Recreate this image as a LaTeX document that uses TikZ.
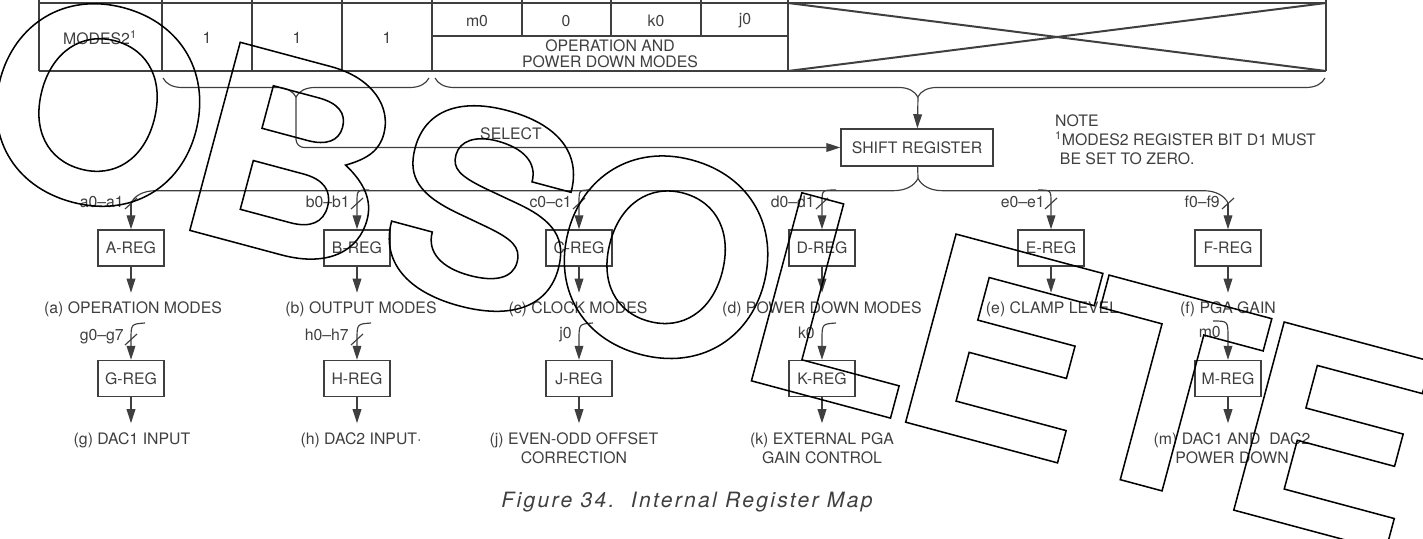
\documentclass[tikz,border=0pt]{standalone}
\usepackage{fontspec}
\setmainfont{TeX Gyre Heros}
\newfontfamily\wmfont{TeX Gyre Heros Bold}[FakeStretch=1.08]
\usetikzlibrary{arrows.meta}
\usetikzlibrary{decorations.pathreplacing}

\definecolor{ink}{HTML}{3f3f3f}
\newcommand{\regfont}{\fontsize{13.5}{16.5}\selectfont}

\begin{document}
\begin{tikzpicture}[x=0.3mm,y=-0.3mm]

	\tikzset{
		reg/.style={
			draw=ink,
			line width=1.2pt,
			minimum width=56.3pt,
			minimum height=30.7pt,
			inner sep=0pt,
			text=ink,
			font=\regfont
		},
		lbl/.style={
			text=ink,
			inner sep=0pt,
			align=center,
			font=\regfont
		},
		bits/.style={lbl,anchor=base east},
		wire/.style={draw=ink,line width=1pt},
		arr/.style={wire,-{Triangle[length=12pt,width=7.5pt]}},
		outarr/.style={arr,shorten >=7.5pt},
		grid/.style={draw=ink,line width=1.7pt},
		letter/.style={anchor=base,inner sep=0pt,text=black,
			font=\wmfont\fontsize{228}{228}\selectfont}
	}

	\useasboundingbox (0,0) rectangle (1423,538);

	% register word (upper row is cut off)
	\draw[grid] (39,3) -- (1326,3) (39,71) -- (1326,71) (432,36) -- (788,36);
	\draw[grid] (39,0) -- (39,71) (162,0) -- (162,71) (252,0) -- (252,71) (342,0) -- (342,71);
	\draw[grid] (432,0) -- (432,71) (788,0) -- (788,71) (1326,0) -- (1326,71);
	\draw[grid] (522,0) -- (522,36) (611,0) -- (611,36) (701,0) -- (701,36);
	\draw[grid] (788,3) -- (1326,71) (788,71) -- (1326,3);

	\node[lbl] (modes) at (100,38) {MODES2\textsuperscript{1}};
	\node[lbl] (one1) at (207,38) {1};
	\node[lbl] (one2) at (297,38) {1};
	\node[lbl] (one3) at (387,38) {1};
	\node[lbl] (bm) at (477,21) {m0};
	\node[lbl] (bz) at (566,21) {0};
	\node[lbl] (bk) at (656,21) {k0};
	\node[lbl] (bj) at (745,21) {j0};
	\node[lbl,font=\fontsize{13.5}{13.7}\selectfont] (opm) at (610,53.5) {OPERATION AND\\POWER DOWN MODES};

	% braces into the shift register
	\draw[wire,decorate,decoration={brace,mirror,amplitude=16.2pt}] (163,78) -- (429,78);
	\draw[wire,decorate,decoration={brace,mirror,amplitude=16.2pt,aspect=0.5425}] (435,78) -- (1325,78);
	\coordinate (selin) at (296,97);
	\coordinate (datin) at (918,97);

	\node[reg,minimum width=129.7pt,minimum height=31.6pt] (sr) at (917,147.5) {SHIFT REGISTER};
	\draw[arr] (datin) -- (sr);
	\draw[arr,rounded corners=7pt] (selin) |- (sr);
	\node[lbl,anchor=base west] (sel) at (480,139) {SELECT};

	\node[lbl,align=left,anchor=north west,font=\fontsize{13.5}{16.2}\selectfont] (note) at (1055,114.5)
	{NOTE\\\textsuperscript{1}MODES2 REGISTER BIT D1 MUST\\\hspace*{0.3em}BE SET TO ZERO.};

	% first row of registers
	\node[reg] (areg) at (131,248) {A-REG};
	\node[reg] (breg) at (357,248) {B-REG};
	\node[reg] (creg) at (579,248) {C-REG};
	\node[reg] (dreg) at (822,248) {D-REG};
	\node[reg] (ereg) at (1051,248) {E-REG};
	\node[reg] (freg) at (1228,248) {F-REG};

	\coordinate (busup) at (918,178);
	\coordinate (ta) at (131,203);
	\coordinate (tf) at (1228,203);
	\coordinate (tb) at (369,190);
	\coordinate (tc) at (591,190);
	\coordinate (td) at (836,190);
	\coordinate (te) at (1038,190);

	\draw[wire] (busup) -- (sr);
	\draw[wire,decorate,decoration={brace,amplitude=21pt,aspect=0.7174}] (ta) -- (tf);

	\draw[arr] (ta) -- (areg);
	\draw[arr] (tb) .. controls (357,190) .. (357,203) -- (breg);
	\draw[arr] (tc) .. controls (579,190) .. (579,203) -- (creg);
	\draw[arr] (td) .. controls (822,190) .. (822,203) -- (dreg);
	\draw[arr] (te) .. controls (1051,190) .. (1051,203) -- (ereg);
	\draw[arr] (tf) -- (freg);

	\draw[wire] (125,209) -- (137,198) (351,209) -- (363,198) (573,209) -- (585,198)
		(816,209) -- (828,198) (1045,209) -- (1057,198) (1222,209) -- (1234,198);

	\node[bits] (ba) at (124,207.5) {a0--a1};
	\node[bits] (bb) at (350,207.5) {b0--b1};
	\node[bits] (bc) at (572,207.5) {c0--c1};
	\node[bits] (bd) at (815,207.5) {d0--d1};
	\node[bits] (be) at (1045,207.5) {e0--e1};
	\node[bits] (bf) at (1220,207.5) {f0--f9};

	\node[lbl,anchor=base] (oa) at (133,313.5) {(a) OPERATION MODES};
	\node[lbl,anchor=base] (ob) at (361,313.5) {(b) OUTPUT MODES};
	\node[lbl,anchor=base] (oc) at (578,313.5) {(c) CLOCK MODES};
	\node[lbl,anchor=base] (od) at (822,313.5) {(d) POWER DOWN MODES};
	\node[lbl,anchor=base] (oe) at (1052,313.5) {(e) CLAMP LEVEL};
	\node[lbl,anchor=base] (of) at (1228,313.5) {(f) PGA GAIN};

	\draw[outarr] (areg) -- (areg |- oa.north);
	\draw[outarr] (breg) -- (breg |- ob.north);
	\draw[outarr] (creg) -- (creg |- oc.north);
	\draw[outarr] (dreg) -- (dreg |- od.north);
	\draw[outarr] (ereg) -- (ereg |- oe.north);
	\draw[outarr] (freg) -- (freg |- of.north);

	% second row of registers
	\node[reg] (greg) at (131,378.5) {G-REG};
	\node[reg] (hreg) at (357,378.5) {H-REG};
	\node[reg] (jreg) at (579,378.5) {J-REG};
	\node[reg] (kreg) at (822,378.5) {K-REG};
	\node[reg] (mreg) at (1228,378.5) {M-REG};

	\coordinate (ig) at (145,323);
	\coordinate (ih) at (371,323);
	\coordinate (ij) at (593,323);
	\coordinate (ik) at (836,323);
	\coordinate (im) at (1213,321);

	\draw[arr] (ig) .. controls (131,324) .. (131,340) -- (greg);
	\draw[arr] (ih) .. controls (357,324) .. (357,340) -- (hreg);
	\draw[arr] (ij) .. controls (579,324) .. (579,340) -- (jreg);
	\draw[arr] (ik) .. controls (822,324) .. (822,340) -- (kreg);
	\draw[arr] (im) .. controls (1228,321) .. (1228,338) -- (mreg);
	\draw[wire] (125,345) -- (137,334) (351,345) -- (363,334);

	\node[bits] (bg) at (124,340.5) {g0--g7};
	\node[bits] (bh) at (349,340.5) {h0--h7};
	\node[bits] (bjj) at (572,338) {j0};
	\node[bits] (bkk) at (815,338) {k0};
	\node[bits] (bmm) at (1221,337) {m0};

	\node[lbl,anchor=base] (og) at (132,444) {(g) DAC1 INPUT};
	\node[lbl,anchor=base] (oh) at (361,444) {(h) DAC2 INPUT·};
	\node[lbl] (oj) at (574,448) {(j) EVEN-ODD OFFSET\\CORRECTION};
	\node[lbl] (ok) at (822,448) {(k) EXTERNAL PGA\\GAIN CONTROL};
	\node[lbl] (om) at (1232,448) {(m) DAC1 AND\ \ DAC2\\POWER DOWN};

	\draw[outarr] (greg) -- (greg |- og.north);
	\draw[outarr] (hreg) -- (hreg |- oh.north);
	\draw[outarr] (jreg) -- (jreg |- oj.north);
	\draw[outarr] (kreg) -- (kreg |- ok.north);
	\draw[outarr] (mreg) -- (mreg |- om.north);

	\node[lbl,anchor=base,font=\fontsize{18}{20}\selectfont\itshape\addfontfeature{LetterSpace=11}] (cap) at (687,507)
	{Figure 34.\ \ Internal Register Map};

	% watermark, outlined letters along a tilted base line
	\begin{scope}[shift={(-28,172)},rotate=-15,transform shape]
		\node[letter] (wo1) at (103.9,0) {\special{pdf:literal direct 1 Tr 1.3 w}O};
		\node[letter] (wb) at (306,0) {\special{pdf:literal direct 1 Tr 1.3 w}B};
		\node[letter] (ws) at (505,0) {\special{pdf:literal direct 1 Tr 1.3 w}S};
		\node[letter] (wo2) at (692,0) {\special{pdf:literal direct 1 Tr 1.3 w}O};
		\node[letter] (wl) at (872,0) {\special{pdf:literal direct 1 Tr 1.3 w}L};
		\node[letter] (we1) at (1040,0) {\special{pdf:literal direct 1 Tr 1.3 w}E};
		\node[letter] (wt) at (1209.1,0) {\special{pdf:literal direct 1 Tr 1.3 w}T};
		\node[letter] (we2) at (1379.7,0) {\special{pdf:literal direct 1 Tr 1.3 w}E};
	\end{scope}

\end{tikzpicture}
\end{document}
